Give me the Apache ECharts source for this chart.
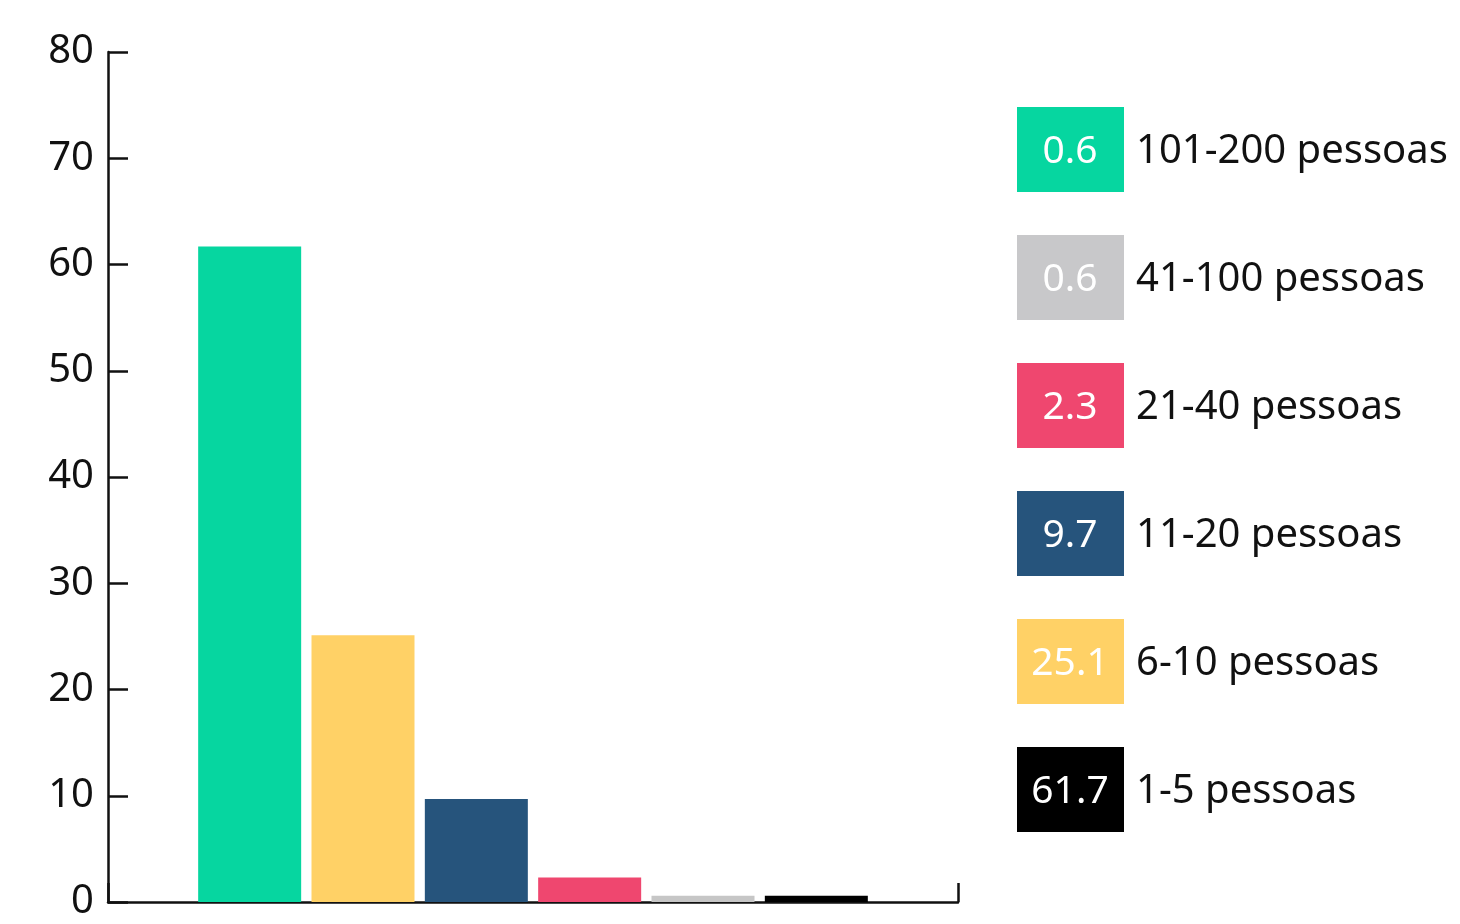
<!DOCTYPE html>
<html>
<head>
<meta charset="utf-8">
<script src="https://cdn.jsdelivr.net/npm/echarts@6/dist/echarts.min.js"></script>
<style>
  html, body { margin: 0; padding: 0; background: #fff; }
  #chart { width: 1460px; height: 924px; }
</style>
</head>
<body>
<div id="chart"></div>
<script>
// dados
var categories = ["1-5 pessoas", "6-10 pessoas", "11-20 pessoas", "21-40 pessoas", "41-100 pessoas", "101-200 pessoas"];
var values = [61.7, 25.1, 9.7, 2.3, 0.6, 0.6];
var barColors = ["#06d6a0", "#ffd166", "#26547c", "#ef476f", "#c6c6c6", "#000000"];
var legendColors = ["#000000", "#ffd166", "#26547c", "#ef476f", "#c8c8ca", "#06d6a0"];
var yTicks = [0, 10, 20, 30, 40, 50, 60, 70, 80];

var FONT = "Noto Sans";

var chart = echarts.init(document.getElementById("chart"));

// legenda desenhada de baixo para cima (1-5 embaixo)
var legend = [];
for (var i = 0; i < categories.length; i++) {
  var rowTop = 747 - i * 128;
  legend.push({
    type: "rect",
    shape: { x: 1017, y: rowTop, width: 107, height: 85 },
    style: { fill: legendColors[i] }
  });
  legend.push({
    type: "text",
    x: 1070,
    y: rowTop + 45,
    style: {
      text: String(values[i]),
      fill: "#fff",
      font: "39px '" + FONT + "'",
      textAlign: "center",
      textVerticalAlign: "middle"
    }
  });
  legend.push({
    type: "text",
    x: 1136,
    y: rowTop + 45,
    style: {
      text: categories[i],
      fill: "#111",
      font: "40px '" + FONT + "'",
      textAlign: "left",
      textVerticalAlign: "middle"
    }
  });
}

var option = {
  animation: false,
  grid: { left: 108, right: 502, top: 52, bottom: 22 },
  xAxis: {
    type: "value",
    min: -0.25,
    max: 7.25,
    interval: 7.5,
    splitLine: { show: false },
    axisLabel: { show: false },
    axisLine: { show: true, lineStyle: { color: "#111", width: 2.5 } },
    axisTick: {
      show: true,
      inside: true,
      length: 19,
      lineStyle: { color: "#111", width: 2.5 }
    }
  },
  yAxis: {
    type: "value",
    min: yTicks[0],
    max: yTicks[yTicks.length - 1],
    interval: 10,
    splitLine: { show: false },
    axisLine: { show: true, onZero: false, lineStyle: { color: "#111", width: 2.5 } },
    axisTick: { show: true, inside: true, length: 20, lineStyle: { color: "#111", width: 2.5 } },
    axisLabel: { color: "#111", fontSize: 40, fontFamily: FONT, margin: 14, padding: [6, 0, 0, 0] }
  },
  series: [{
    type: "bar",
    barWidth: 103,
    data: values.map(function (v, i) {
      return { value: [i + 1, v], itemStyle: { color: barColors[i] } };
    })
  }],
  graphic: { elements: legend }
};

chart.setOption(option);
</script>
</body>
</html>
